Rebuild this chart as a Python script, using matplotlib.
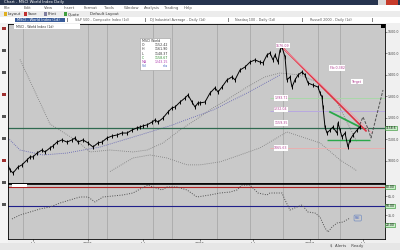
import matplotlib
matplotlib.use("Agg")
import matplotlib.pyplot as plt
from matplotlib.patches import Rectangle

W, H = 400, 250

# price bars (bar position, close)
bar_x = [7, 10, 13, 18, 22, 27, 30, 33, 37, 42, 45, 50, 53, 57, 62, 67, 72, 75, 78, 83,
         88, 93, 98, 102, 107, 112, 117, 122, 127, 132, 137, 140, 143, 147, 152, 155, 158,
         163, 168, 172, 175, 180, 185, 188, 192, 195, 198, 200, 205, 210, 215, 218, 222,
         227, 232, 235, 240, 245, 250, 255, 260, 263, 267, 270, 273, 275, 278, 280, 282,
         285, 287, 290, 292, 295, 298, 302, 305, 308, 313, 318, 320, 322, 323, 325, 327,
         330, 333, 337, 338, 340, 342, 345, 348, 350, 353, 357, 360]
close = [991, 958, 944, 972, 982, 1005, 1019, 1019, 1037, 1051, 1042, 1061, 1070, 1088,
         1098, 1088, 1098, 1107, 1088, 1098, 1084, 1065, 1084, 1088, 1107, 1116, 1121, 1130,
         1130, 1144, 1154, 1158, 1163, 1168, 1181, 1191, 1181, 1200, 1228, 1247, 1251, 1274,
         1293, 1307, 1274, 1251, 1270, 1270, 1274, 1316, 1340, 1321, 1344, 1377, 1391, 1377,
         1423, 1437, 1460, 1470, 1460, 1456, 1493, 1502, 1470, 1493, 1460, 1516, 1530, 1484,
         1377, 1391, 1344, 1377, 1400, 1414, 1400, 1363, 1353, 1344, 1316, 1298, 1251, 1158,
         1130, 1144, 1158, 1130, 1177, 1144, 1112, 1130, 1065, 1098, 1121, 1144, 1158]

# regression channel (dotted)
upper_x = [20, 50, 77, 90, 110, 133, 147, 163, 180, 200, 213, 225, 247, 265, 280, 300, 317, 337, 357]
upper_y = [1472, 1172, 1093, 1042, 1051, 1042, 1051, 1084, 1144, 1205, 1247, 1279, 1344, 1391, 1409, 1400, 1367, 1274, 1088]
mid_x = [8, 20, 43, 67, 100, 140, 173, 180, 213, 247, 280]
mid_y = [1107, 1051, 1028, 1037, 1065, 1121, 1168, 1181, 1237, 1316, 1400]
lower_x = [110, 133, 150, 167, 187, 200, 220, 240, 260, 287, 320, 340, 357]
lower_y = [951, 1014, 1028, 1014, 982, 982, 996, 1028, 1061, 1135, 1084, 1005, 954]

proj_x = [358, 363, 368, 371, 383]
proj_y = [1150, 1205, 1150, 1107, 1330]

grid_x = [23, 88, 107, 153, 172, 217, 250, 283, 318, 340]
price_ticks = [1000, 1100, 1200, 1300, 1400, 1500, 1600]

# oscillator (lower pane)
osc_x = [12, 20, 30, 40, 50, 60, 70, 80, 88, 95, 103, 113, 123, 133, 142, 148, 153, 162,
         167, 177, 187, 197, 210, 220, 230, 237, 242, 250, 258, 267, 270, 282, 285, 290,
         297, 302, 308, 315, 320, 325, 328, 332, 337, 343, 350]
osc_y = [29.5, 35.8, 40.5, 45.3, 48.4, 54.7, 59.5, 64.2, 64.2, 56.3, 64.2, 65.8, 67.4,
         70.5, 78.4, 83.0, 80.0, 75.3, 80.0, 80.0, 75.3, 64.2, 67.4, 70.5, 72.0, 75.3,
         83.0, 83.0, 70.5, 67.4, 70.5, 70.5, 59.5, 43.7, 48.4, 51.6, 40.5, 38.9, 32.6,
         15.2, 8.9, 16.8, 23.1, 24.7, 31.0]
osc_ticks = [35, 65]
osc_levels = [20, 50, 80]
date_x = [33, 88, 143, 200, 253, 310, 363]
date_labels = ["Jul", "2005", "Jul", "2006", "Jul", "2007", "Jul"]


def px(x0, y0, w, h, **kw):
    fig.add_artist(Rectangle((x0 / W, 1 - (y0 + h) / H), w / W, h / H,
                             transform=fig.transFigure, **kw))


def ptext(x, y, s, **kw):
    kw.setdefault("fontsize", 2.8)
    kw.setdefault("va", "center")
    fig.text(x / W, 1 - y / H, s, **kw)


fig = plt.figure(figsize=(4, 2.5), dpi=100)
fig.patch.set_facecolor("#f0f0f0")

# window chrome
px(0, 0, 400, 5, color="#26344f", lw=0)
ptext(4, 2.5, "Chart - MSCI World Index Daily", color="white")
px(378, 0, 8, 4.5, color="#d9d9d9", lw=0)
px(386, 0, 12, 4.5, color="#c73b2b", lw=0)
px(0, 5, 400, 6, color="white", lw=0)
menu = ["File", "Edit", "View", "Insert", "Format", "Tools", "Window", "Analysis", "Trading", "Help"]
for i, m in enumerate(menu):
    ptext(4 + i * 20, 8, m, color="#555555")
px(0, 11, 400, 6, color="#ececec", lw=0)
for i, (c, s) in enumerate([("#e0b020", "Layout"), ("#c03030", "Save"), ("#8080a0", "Print"), ("#40a040", "Quote")]):
    px(4 + i * 20, 12.5, 3, 3, color=c, lw=0)
    ptext(8 + i * 20, 14, s, color="#333333")
ptext(90, 14, "Default Layout", color="#333333")
px(0, 17, 400, 6, color="white", lw=0)
px(15, 18, 50, 4, color="#3a5d9a", lw=0)
ptext(17, 20, "MSCI - World Index (1d)", color="white", fontsize=2.6)
tabs = [(75, "S&P 500 - Composite Index (1d)"), (150, "DJ Industrial Average - Daily (1d)"),
        (235, "Nasdaq 100 - Daily (1d)"), (310, "Russell 2000 - Daily (1d)")]
for x, s in tabs:
    ptext(x, 20, s, color="#555555", fontsize=2.4)
for x in [67, 145, 228, 302, 372]:
    px(x, 18, 0.6, 4, color="#888888", lw=0)
px(0, 23, 8, 221, color="#f4f4f4", lw=0)
for i in range(9):
    px(1.5, 27 + i * 22, 4, 3, color="#555555" if i % 3 else "#a03030", lw=0)
px(0, 243, 400, 7, color="#e6e6e6", lw=0)
ptext(330, 246.5, "$  Alerts    Ready", color="#444444")

# main price pane
ax = fig.add_axes([8 / W, 1 - 184 / H, 377 / W, 160 / H])
ax.set_facecolor("#c9c9c9")
ax.set_xlim(8, 385)
ax.set_ylim(893, 1637)
for gx in grid_x:
    ax.axvline(gx, color="#a9a9a9", lw=0.6, zorder=0)
ax.plot(upper_x, upper_y, ls=(0, (1, 1.5)), color="#7a7a7a", lw=0.6)
ax.plot(mid_x, mid_y, ls=(0, (1, 1.5)), color="#5a5ab0", lw=0.6)
ax.plot(lower_x, lower_y, ls=(0, (1, 1.5)), color="#7a7a7a", lw=0.6)
ax.axhline(1154, color="#2f6a50", lw=0.9)
ax.hlines([1293, 1233, 1061], 270, 385, colors=["#a8d8a8", "#b8a8e0", "#e8b0b0"], lw=0.7)
ax.plot([282, 366], [1530, 1140], color="#e03040", lw=1.2)
ax.plot([282, 372], [1530, 1130], color="#f0a0b0", lw=0.6)
ax.plot([330, 360], [1228, 1158], color="#2aa84a", lw=1.3)
ax.hlines(1098, 327, 370, color="#2aa84a", lw=1.0)
ax.plot(proj_x, proj_y, ls=(0, (3, 1.5)), color="#505050", lw=0.7)
ax.plot(bar_x, close, color="black", lw=0.7, marker="|", ms=2.5, mew=0.7)

for x, y, s in [(283, 1537, "1576.09"), (337, 1433, "Fib 0.382"), (357, 1368, "Target"),
                (281, 1293, "1293.71"), (281, 1240, "1232.04"), (281, 1177, "1159.35"),
                (281, 1061, "1065.63")]:
    ax.text(x, y, s, fontsize=2.3, color="#b04090", ha="center", va="center",
            bbox=dict(boxstyle="square,pad=0.2", fc="white", ec="none"))

ax.yaxis.tick_right()
ax.set_yticks(price_ticks)
ax.set_yticklabels([f"{p}.0" for p in price_ticks])
ax.tick_params(axis="y", labelsize=2.3, colors="#444444", length=1.2, width=0.4, pad=0.8)
ax.set_xticks([])
ax.text(385.6, 1154, "1158.6", fontsize=2.2, color="black", va="center",
        bbox=dict(boxstyle="square,pad=0.12", fc="#c8f0c8", ec="#2a8a2a", lw=0.4))
for sp in ax.spines.values():
    sp.set_linewidth(0.6)
ax.spines["bottom"].set_linewidth(1.2)

# legend box
px(140, 38, 30, 32, color="white", ec="#9a9a9a", lw=0.4)
rows = [("MSCI World", "", "#333333"), ("O", "1152.42", "#333333"), ("H", "1161.90", "#333333"),
        ("L", "1148.37", "#333333"), ("C", "1158.67", "#2a8a2a"), ("MA", "1243.15", "#b040b0"),
        ("Vol", "n/a", "#4060c0")]
for i, (a, b, c) in enumerate(rows):
    ptext(142, 41 + i * 4.2, a, color=c, fontsize=2.3)
    ptext(168, 41 + i * 4.2, b, color=c, fontsize=2.3, ha="right")

# chart header
px(14, 24.5, 66, 4, color="white", lw=0)
ptext(16, 26.5, "MSCI - World Index (1d)", color="#333333", fontsize=2.3)
px(381, 24.5, 3.5, 3.5, color="black", lw=0)

# oscillator pane
ax2 = fig.add_axes([8 / W, 1 - 239 / H, 377 / W, 55 / H])
ax2.set_facecolor("#c9c9c9")
ax2.set_xlim(8, 385)
ax2.set_ylim(-2.1, 84.7)
for gx in grid_x:
    ax2.axvline(gx, color="#a9a9a9", lw=0.6, zorder=0)
ax2.axhline(80, color="#b02020", lw=0.8)
ax2.axhline(50, color="#20208a", lw=0.8)
ax2.plot(osc_x, osc_y, ls=(0, (1, 1.5)), color="#505050", lw=0.7)
ax2.text(355, 31, "RSI", fontsize=2.3, color="#4060c0", va="center",
         bbox=dict(boxstyle="round,pad=0.3", fc="#c9c9c9", ec="#6080c0", lw=0.4))
ax2.yaxis.tick_right()
ax2.set_yticks(osc_ticks)
ax2.set_yticklabels([f"{t}.0" for t in osc_ticks])
ax2.tick_params(axis="y", labelsize=2.3, colors="#444444", length=1.2, width=0.4, pad=0.8)
for t in osc_levels:
    ax2.text(385.6, t, f"{t}.00", fontsize=2.2, color="black", va="center",
             bbox=dict(boxstyle="square,pad=0.12", fc="#c8f0c8", ec="#2a8a2a", lw=0.4))
ax2.set_xticks(date_x)
ax2.set_xticklabels(date_labels)
ax2.tick_params(axis="x", labelsize=2.8, colors="#333333", length=1.5, width=0.4, pad=0.5)
for sp in ax2.spines.values():
    sp.set_linewidth(0.6)
ax2.spines["top"].set_linewidth(1.2)
px(12, 184, 15, 3, color="white", lw=0)

fig.savefig("out.png", dpi=100, facecolor=fig.get_facecolor())
